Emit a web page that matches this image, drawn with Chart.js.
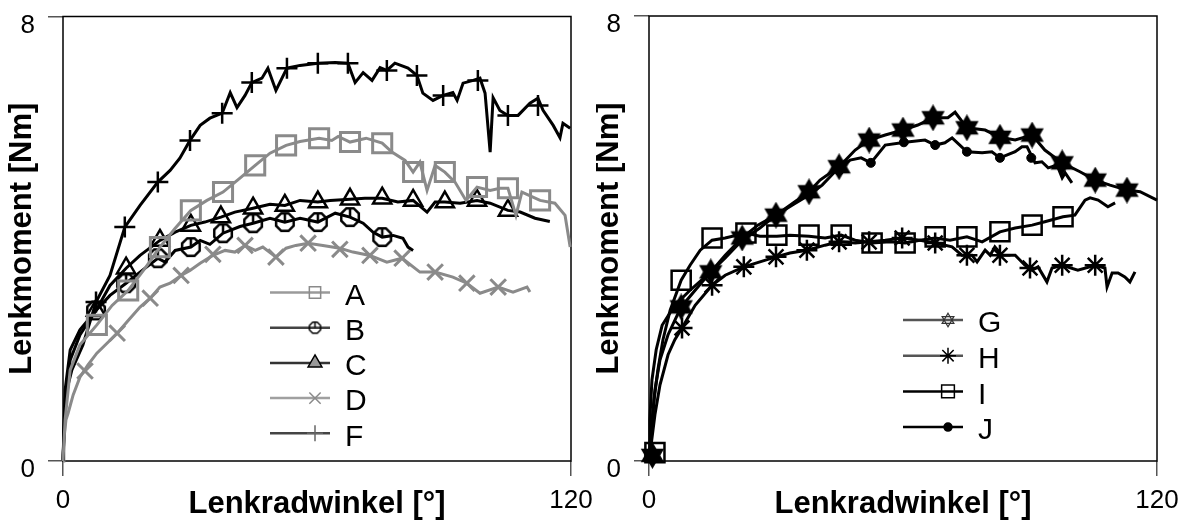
<!DOCTYPE html>
<html>
<head>
<meta charset="utf-8">
<title>Lenkmoment</title>
<script src="https://cdn.jsdelivr.net/npm/chart.js@4.4.0/dist/chart.umd.min.js"></script>
<style>
  body { margin: 0; background: #fff; }
  #wrap { position: relative; width: 1193px; height: 521px; }
  canvas { position: absolute; top: 0; }
  #left { left: 0; }
  #right { left: 596px; }
</style>
</head>
<body>
<div id="wrap">
  <canvas id="left" width="596" height="521"></canvas>
  <canvas id="right" width="597" height="521"></canvas>
</div>
<script>
// Lenkmoment [Nm] over Lenkradwinkel [deg]

const leftLabels = ['A', 'B', 'C', 'D', 'F'];
const rightLabels = ['G', 'H', 'I', 'J'];
const xTicks = [0, 120];
const yTicks = [0, 8];

// left panel curves [winkel, moment]
const A_line = [[0,0],[0.5,0.74],[1.7,1.64],[4.0,2.09],[8.0,2.45],[11.6,2.80],[15.4,3.07],[19.4,3.47],[22.9,3.85],[26.5,4.19],[30.2,4.51],[34.0,4.69],[37.8,4.84],[41.8,5.09],[45.4,5.32],[48.9,5.54],[52.7,5.68],[56.0,5.75],[60.5,5.81],[63.5,5.77],[65.0,5.84],[67.8,5.74],[71.6,5.81],[75.4,5.72],[77.7,5.56],[80.8,5.41],[82.7,5.20],[84.3,5.38],[86.0,4.87],[87.9,5.32],[90.2,5.20],[92.6,5.02],[95.2,4.69],[97.8,4.93],[100.9,4.87],[103.2,4.91],[105.1,4.91],[107.0,4.42],[108.4,4.84],[112.7,4.69],[116.2,4.64],[118.6,4.42],[119.8,3.85]];
const A_marks = [[8.0,2.45],[15.4,3.07],[22.9,3.85],[30.2,4.51],[37.8,4.84],[45.4,5.32],[52.7,5.68],[60.5,5.81],[67.8,5.74],[75.4,5.72],[82.7,5.20],[90.2,5.20],[97.8,4.93],[105.1,4.91],[112.7,4.69]];

const B_line = [[0,0],[0.5,1.10],[1.7,1.82],[4.0,2.27],[7.8,2.71],[11.1,2.98],[14.9,3.20],[18.2,3.40],[22.4,3.65],[24.1,3.58],[26.5,3.79],[30.2,3.85],[32.4,3.97],[34.7,3.90],[37.8,4.10],[41.8,4.22],[44.9,4.28],[48.9,4.37],[52.4,4.30],[56.0,4.37],[60.2,4.30],[64.3,4.46],[67.8,4.39],[70.9,4.28],[73.2,4.12],[75.4,4.03],[78.0,4.06],[80.3,4.01],[81.5,3.85],[82.7,3.79]];
const B_marks = [[7.8,2.71],[14.9,3.20],[22.4,3.65],[30.2,3.85],[37.8,4.10],[44.9,4.28],[52.4,4.30],[60.2,4.30],[67.8,4.39],[75.4,4.03]];

const C_line = [[0,0],[0.5,1.28],[1.7,2.00],[4.0,2.36],[7.8,2.71],[11.1,3.16],[14.9,3.47],[18.2,3.70],[22.9,3.97],[26.5,4.12],[30.2,4.24],[33.5,4.30],[37.3,4.39],[40.6,4.48],[44.9,4.55],[48.9,4.62],[52.4,4.60],[56.0,4.69],[60.2,4.66],[63.1,4.69],[67.8,4.71],[71.3,4.73],[75.4,4.73],[79.1,4.66],[82.7,4.69],[86.0,4.48],[87.9,4.66],[90.2,4.66],[93.8,4.64],[97.8,4.69],[100.9,4.64],[105.1,4.51],[108.0,4.48],[111.5,4.37],[115.0,4.31]];
const C_marks = [[7.8,2.71],[14.9,3.47],[22.9,3.97],[30.2,4.24],[37.3,4.39],[44.9,4.55],[52.4,4.60],[60.2,4.66],[67.8,4.71],[75.4,4.73],[82.7,4.69],[90.2,4.66],[97.8,4.69],[105.1,4.51]];

const D_line = [[0,0],[0.2,0.38],[0.7,0.74],[1.2,0.86],[2.4,1.19],[4.0,1.51],[5.9,1.73],[8.0,1.94],[10.4,2.12],[12.8,2.30],[15.4,2.53],[18.2,2.77],[20.6,2.93],[22.9,3.13],[25.3,3.20],[27.9,3.34],[30.0,3.43],[32.4,3.56],[35.4,3.70],[38.3,3.79],[40.6,3.76],[43.0,3.88],[45.4,3.79],[47.2,3.85],[50.3,3.67],[52.7,3.83],[55.0,3.88],[57.9,3.92],[61.4,3.88],[65.4,3.83],[68.5,3.76],[72.5,3.70],[76.5,3.58],[80.1,3.65],[84.3,3.40],[87.9,3.40],[92.1,3.31],[95.4,3.20],[98.5,3.02],[102.8,3.13],[106.3,3.04],[109.6,3.13],[110.3,3.04]];
const D_marks = [[5.2,1.62],[12.8,2.30],[20.6,2.93],[27.9,3.34],[35.4,3.72],[43.0,3.88],[50.3,3.67],[57.9,3.92],[65.4,3.81],[72.5,3.70],[80.1,3.65],[87.9,3.40],[95.4,3.20],[102.8,3.13]];

const F_line = [[0,0],[0.5,0.97],[1.2,1.37],[2.1,1.64],[4.7,2.09],[7.8,2.86],[11.1,3.34],[14.6,4.21],[18.2,4.60],[22.4,5.02],[25.3,5.23],[27.6,5.45],[30.0,5.77],[32.4,6.04],[34.7,6.17],[37.6,6.26],[39.5,6.63],[41.1,6.36],[43.0,6.58],[44.6,6.81],[47.0,6.89],[48.4,7.07],[50.3,6.67],[52.9,7.07],[56.0,7.12],[60.2,7.16],[64.3,7.17],[67.3,7.16],[69.0,6.81],[70.9,6.99],[73.0,6.85],[74.9,7.08],[76.5,7.03],[78.4,7.16],[81.5,7.07],[83.6,6.94],[85.0,6.62],[87.4,6.49],[89.8,6.58],[92.1,6.63],[93.1,6.49],[94.5,6.80],[96.9,6.85],[98.5,6.89],[99.7,6.62],[100.9,5.56],[101.6,6.54],[103.2,6.31],[105.1,6.22],[107.5,6.22],[110.3,6.44],[112.2,6.53],[113.4,6.31],[115.8,6.04],[117.4,5.82],[118.1,6.08],[119.8,5.99]];
const F_marks = [[7.8,2.86],[14.6,4.21],[22.4,5.02],[30.0,5.77],[37.6,6.26],[44.6,6.81],[52.9,7.07],[60.2,7.16],[67.3,7.16],[76.5,7.03],[83.6,6.94],[89.8,6.58],[98.0,6.85],[105.1,6.22],[112.2,6.40]];

// right panel curves
const G_line = [[0,0],[0.5,0.56],[1.4,1.28],[2.6,1.82],[4.5,2.27],[7.6,2.77],[10.9,3.07],[14.6,3.40],[18.0,3.70],[22.0,4.01],[25.7,4.24],[30.0,4.42],[33.3,4.60],[37.8,4.84],[40.4,5.05],[44.9,5.29],[48.7,5.59],[52.0,5.77],[55.8,5.86],[60.0,5.95],[63.5,6.04],[67.1,6.17],[70.6,6.17],[72.3,6.27],[75.1,5.99],[79.4,5.95],[82.9,5.82],[86.5,5.77],[90.5,5.86],[93.5,5.59],[97.6,5.36],[101.8,5.20],[105.4,5.05],[108.9,4.96],[112.9,4.87],[116.0,4.84],[120.0,4.69]];
const G_marks = [[0.8,0.1],[7.6,2.77],[14.6,3.40],[22.0,4.01],[30.0,4.42],[37.8,4.84],[44.9,5.29],[52.0,5.77],[60.0,5.95],[67.1,6.17],[75.1,5.99],[82.9,5.82],[90.5,5.86],[97.6,5.36],[105.4,5.05],[112.9,4.87]];

const H_line = [[0,0],[0.5,0.29],[1.4,0.83],[2.6,1.37],[4.5,1.91],[6.1,2.18],[7.8,2.39],[10.9,2.80],[14.9,3.16],[18.0,3.34],[22.4,3.49],[26.2,3.58],[30.0,3.67],[33.3,3.74],[37.3,3.79],[41.6,3.88],[44.9,3.94],[48.7,3.92],[52.0,3.94],[55.8,3.97],[59.8,4.01],[64.0,3.97],[67.6,3.92],[71.6,3.85],[73.9,3.70],[75.1,3.70],[76.3,3.70],[77.5,3.58],[79.4,3.79],[80.6,3.70],[81.7,3.85],[83.4,3.70],[86.5,3.70],[88.8,3.52],[90.5,3.43],[91.9,3.49],[94.0,3.22],[95.2,3.47],[97.6,3.52],[101.3,3.43],[105.4,3.52],[107.7,3.47],[108.2,3.13],[109.4,3.38],[110.8,3.38],[112.4,3.31],[113.6,3.22],[114.8,3.40]];
const H_marks = [[7.8,2.39],[14.9,3.16],[22.4,3.49],[30.0,3.67],[37.3,3.79],[44.9,3.94],[52.0,3.94],[59.8,4.01],[67.6,3.92],[75.1,3.70],[82.9,3.70],[90.0,3.47],[97.6,3.52],[105.4,3.52]];

const I_line = [[0,0],[0.5,0.38],[1.2,1.10],[2.1,1.64],[3.3,2.18],[5.0,2.71],[7.6,3.25],[9.7,3.52],[12.1,3.79],[14.9,3.97],[18.0,4.01],[22.9,4.10],[26.2,4.04],[30.2,4.04],[33.3,4.06],[37.8,4.04],[41.6,4.01],[45.4,4.06],[48.7,3.97],[52.7,3.92],[56.9,3.94],[60.5,3.92],[64.0,3.97],[67.6,4.01],[71.1,3.97],[75.1,4.03],[78.7,3.94],[82.9,4.12],[86.5,4.19],[90.5,4.24],[93.5,4.30],[97.8,4.39],[100.6,4.42],[103.0,4.69],[104.2,4.73],[106.1,4.69],[108.4,4.57],[110.1,4.64]];
const I_marks = [[1.4,0.15],[7.6,3.25],[14.9,4.01],[22.9,4.10],[30.2,4.06],[37.8,4.06],[45.4,4.06],[52.7,3.92],[60.5,3.92],[67.6,4.03],[75.1,4.03],[82.9,4.12],[90.5,4.24],[97.8,4.39]];

const J_line = [[0,0],[0.2,0.74],[0.7,1.46],[1.7,2.00],[3.1,2.44],[6.1,2.80],[9.7,3.07],[14.6,3.40],[18.0,3.65],[22.0,3.97],[26.2,4.19],[30.0,4.42],[33.8,4.60],[37.8,4.78],[40.9,4.96],[43.9,5.20],[47.5,5.41],[50.1,5.45],[52.4,5.36],[55.8,5.68],[60.5,5.73],[65.2,5.77],[67.6,5.68],[69.9,5.72],[71.6,5.81],[75.1,5.56],[78.7,5.54],[81.0,5.56],[82.9,5.45],[86.5,5.56],[88.1,5.65],[89.3,5.65],[91.2,5.36],[92.8,5.38],[94.3,5.27],[96.4,5.32],[97.6,5.09],[98.3,5.18],[99.9,5.00]];
const J_marks = [[14.6,3.40],[22.0,3.97],[30.0,4.42],[37.8,4.78],[44.9,5.22],[52.4,5.36],[60.2,5.73],[67.6,5.68],[75.1,5.56],[82.9,5.45],[90.3,5.45]];

const FONT = '"Liberation Sans", Arial, sans-serif';
Chart.defaults.font.family = FONT;
Chart.defaults.color = '#000';

// little canvas markers for shapes Chart.js has no pointStyle for
function makeMarker(kind, size, stroke, fill, lw) {
    const c = document.createElement('canvas');
    c.width = c.height = size;
    const g = c.getContext('2d');
    const m = size / 2, r = size / 2 - lw;
    g.strokeStyle = stroke;
    g.fillStyle = fill || stroke;
    g.lineWidth = lw;
    if (kind === 'oct') {
        g.beginPath();
        for (let i = 0; i < 8; i++) {
            const a = Math.PI / 8 + i * Math.PI / 4;
            g.lineTo(m + r * Math.cos(a), m + r * Math.sin(a));
        }
        g.closePath();
        g.stroke();
        g.beginPath();
        g.moveTo(m, m - r);
        g.lineTo(m, m);
        g.stroke();
    } else if (kind === 'hex') {
        for (let t = 0; t < 2; t++) {
            g.beginPath();
            for (let i = 0; i < 3; i++) {
                const a = -Math.PI / 2 + t * Math.PI + i * 2 * Math.PI / 3;
                g.lineTo(m + r * Math.cos(a), m + r * Math.sin(a));
            }
            g.closePath();
            if (fill) g.fill();
            g.stroke();
        }
    }
    return c;
}

const octBig = makeMarker('oct', 24, '#000', null, 2.5);
const octSmall = makeMarker('oct', 15, '#000', null, 1.5);
const hexBig = makeMarker('hex', 27, '#000', '#000', 2);
const hexSmall = makeMarker('hex', 16, '#333', null, 1.2);

const GRAY = '#8a8a8a';

const leftSeries = [
    { line: A_line, marks: A_marks, color: GRAY, style: 'rect', r: 13.5, lw: 3,
      legend: { line: '#9a9a9a', mark: GRAY, fill: 'rgba(0,0,0,0)', style: 'rect', r: 8 } },
    { line: B_line, marks: B_marks, color: '#000', style: octBig, r: 10, lw: 2.5,
      legend: { line: '#444', mark: '#000', fill: 'rgba(0,0,0,0)', style: octSmall, r: 7 } },
    { line: C_line, marks: C_marks, color: '#000', style: 'triangle', r: 10.5, lw: 2.5,
      legend: { line: '#333', mark: '#000', fill: '#999', style: 'triangle', r: 8 } },
    { line: D_line, marks: D_marks, color: GRAY, style: 'crossRot', r: 11, lw: 3,
      legend: { line: '#a0a0a0', mark: GRAY, fill: GRAY, style: 'crossRot', r: 8 } },
    { line: F_line, marks: F_marks, color: '#000', style: 'cross', r: 10.5, lw: 2.5,
      legend: { line: '#444', mark: '#666', fill: '#666', style: 'cross', r: 8 } }
];

const rightSeries = [
    { line: G_line, marks: G_marks, color: '#000', style: hexBig, r: 10, lw: 2,
      legend: { line: '#555', mark: '#333', fill: 'rgba(0,0,0,0)', style: hexSmall, r: 8 } },
    { line: H_line, marks: H_marks, color: '#000', style: 'star', r: 10.5, lw: 2.5,
      legend: { line: '#555', mark: '#000', fill: '#000', style: 'star', r: 8 } },
    { line: I_line, marks: I_marks, color: '#000', style: 'rect', r: 13.5, lw: 2.5,
      legend: { line: '#000', mark: '#000', fill: 'rgba(0,0,0,0)', style: 'rect', r: 9 } },
    { line: J_line, marks: J_marks, color: '#000', style: 'circle', r: 4.5, lw: 1,
      legend: { line: '#000', mark: '#000', fill: '#000', style: 'circle', r: 4 } }
];

const toXY = arr => arr.map(p => ({ x: p[0], y: p[1] }));

// plot frame (top and right edges included)
const framePlugin = {
    id: 'frame',
    beforeDatasetsDraw(chart) {
        const { ctx, chartArea: a } = chart;
        ctx.save();
        ctx.strokeStyle = '#000';
        ctx.lineWidth = 1.5;
        ctx.strokeRect(a.left, a.top, a.right - a.left, a.bottom - a.top);
        ctx.restore();
    }
};

// legend inside the plot: line with marker, then label
const insideLegend = {
    id: 'insideLegend',
    afterDraw(chart, args, opts) {
        const { ctx, chartArea: a } = chart;
        opts.items.forEach((it, i) => {
            const x0 = a.left + opts.left;
            const y = a.top + opts.top + i * opts.gap;
            ctx.save();
            ctx.strokeStyle = it.line;
            ctx.lineWidth = 2.5;
            ctx.beginPath();
            ctx.moveTo(x0, y);
            ctx.lineTo(x0 + 60, y);
            ctx.stroke();
            ctx.strokeStyle = it.mark;
            ctx.fillStyle = it.fill;
            ctx.lineWidth = 1.5;
            Chart.helpers.drawPoint(ctx, { pointStyle: it.style, radius: it.r, rotation: 0, borderWidth: 1.5 }, x0 + 45, y);
            ctx.fillStyle = '#000';
            ctx.font = '30px ' + FONT;
            ctx.textBaseline = 'middle';
            ctx.textAlign = 'left';
            ctx.fillText(it.label, x0 + 75, y + 4);
            ctx.restore();
        });
    }
};

function makeChart(id, series, labels, cfg) {
    const datasets = [];
    series.forEach((s, i) => {
        datasets.push({
            label: labels[i],
            data: toXY(s.line),
            showLine: true,
            borderColor: s.color,
            borderWidth: 3,
            pointRadius: 0,
            tension: 0,
            fill: false
        });
        datasets.push({
            label: labels[i] + ' marker',
            data: toXY(s.marks),
            showLine: false,
            pointStyle: s.style,
            pointRadius: s.r,
            pointBorderColor: s.color,
            pointBackgroundColor: s.style === 'circle' ? s.color : 'rgba(0,0,0,0)',
            pointBorderWidth: s.lw
        });
    });

    const gridOpts = { drawOnChartArea: false, drawTicks: true, tickLength: 15, color: '#555', lineWidth: 1.5 };

    return new Chart(document.getElementById(id), {
        type: 'scatter',
        data: { datasets },
        options: {
            responsive: false,
            animation: false,
            events: [],
            clip: false,
            layout: { padding: { left: 0, top: 16, right: cfg.padRight, bottom: 0 } },
            plugins: {
                legend: { display: false },
                tooltip: { enabled: false },
                insideLegend: {
                    left: cfg.legendLeft, top: cfg.legendTop, gap: cfg.legendGap,
                    items: series.map((s, i) => Object.assign({ label: labels[i] }, s.legend))
                }
            },
            scales: {
                x: {
                    type: 'linear',
                    min: xTicks[0], max: xTicks[1],
                    afterBuildTicks: sc => { sc.ticks = xTicks.map(v => ({ value: v })); },
                    ticks: { font: { size: 26 }, color: '#000', padding: 9, maxRotation: 0 },
                    grid: gridOpts,
                    border: { display: false },
                    title: { display: true, text: 'Lenkradwinkel [°]', color: '#000',
                             font: { size: 31, weight: 'bold' }, padding: { top: 0, bottom: -2 } },
                    afterFit: sc => { sc.height = 60; sc.paddingLeft = 0; sc.paddingRight = 0; }
                },
                y: {
                    type: 'linear',
                    min: yTicks[0], max: yTicks[1],
                    afterBuildTicks: sc => { sc.ticks = yTicks.map(v => ({ value: v })); },
                    ticks: { font: { size: 26 }, color: '#000', padding: 13, labelOffset: 9 },
                    grid: gridOpts,
                    border: { display: false },
                    title: { display: true, text: 'Lenkmoment [Nm]', color: '#000',
                             font: { size: 31, weight: 'bold' }, padding: { top: cfg.titlePad, bottom: 0 } },
                    afterFit: sc => { sc.width = cfg.yWidth; sc.paddingTop = 0; sc.paddingBottom = 0; }
                }
            }
        },
        plugins: [framePlugin, insideLegend]
    });
}

makeChart('left', leftSeries, leftLabels, {
    padRight: 25, yWidth: 63, titlePad: 4, legendLeft: 207, legendTop: 276, legendGap: 35.2
});
makeChart('right', rightSeries, rightLabels, {
    padRight: 36, yWidth: 53, titlePad: -5.5, legendLeft: 254, legendTop: 304, legendGap: 35.7
});
</script>
</body>
</html>
